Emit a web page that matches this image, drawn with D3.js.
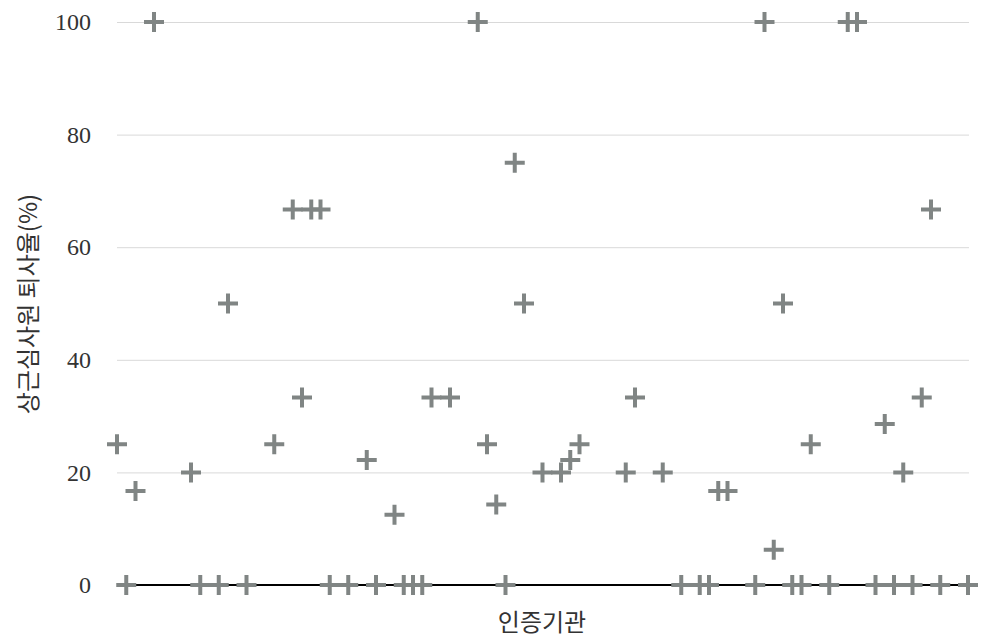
<!DOCTYPE html>
<html>
<head>
<meta charset="utf-8">
<script src="https://cdn.jsdelivr.net/npm/d3@7"></script>
<style>
  html, body { margin: 0; padding: 0; background: #fff; }
  svg { display: block; }
</style>
</head>
<body>
<svg id="chart" width="982" height="640"></svg>
<script>
// Data: one value per 인증기관 (null = no value)
const categories = d3.range(1, 94).map(String);
const values = [
  25, 0, 16.7, null, 100, null, null, null, 20, 0,
  null, 0, 50, null, 0, null, null, 25, null, 66.7,
  33.3, 66.7, 66.7, 0, null, 0, null, 22.2, 0, null,
  12.5, 0, 0, 0, 33.3, null, 33.3, null, null, 100,
  25, 14.3, 0, 75, 50, null, 20, null, 20, 22.2,
  25, null, null, null, null, 20, 33.3, null, null, 20,
  null, 0, null, 0, 0, 16.7, 16.7, null, null, 0,
  100, 6.25, 50, 0, 0, 25, null, 0, null, 100,
  100, null, 0, 28.6, 0, 20, 0, 33.3, 66.7, 0,
  null, null, 0
];
const yTicks = [0, 20, 40, 60, 80, 100];
const xTitle = "인증기관";
const yTitle = "상근심사원 퇴사율(%)";

const svg = d3.select("#chart");
const mLeft = 117, mRight = 968, mTop = 22, mBottom = 585;

const x = d3.scalePoint().domain(categories).range([mLeft, mRight]);
const y = d3.scaleLinear().domain([0, 100]).range([mBottom, mTop]);

// gridlines + y labels
const yAxis = d3.axisLeft(y).tickValues(yTicks).tickSize(-(mRight - mLeft + 1)).tickPadding(26).tickFormat(d3.format("d"));
const gy = svg.append("g").attr("transform", `translate(${mLeft},0)`).call(yAxis);
gy.select(".domain").remove();
gy.selectAll(".tick line").attr("stroke", "#d9d9d9").attr("stroke-width", 1);
gy.selectAll(".tick text")
  .attr("font-family", "'Liberation Serif', 'DejaVu Serif', serif")
  .attr("font-size", 24)
  .attr("fill", "#333");

// zero baseline
svg.append("line")
  .attr("x1", mLeft).attr("x2", mRight + 1)
  .attr("y1", y(0)).attr("y2", y(0))
  .attr("stroke", "#000").attr("stroke-width", 2);

// markers
const pts = categories.map((c, i) => ({ c, v: values[i] })).filter(d => d.v !== null);
svg.append("g").selectAll("path")
  .data(pts)
  .join("path")
  .attr("transform", d => `translate(${x(d.c)},${y(d.v)})`)
  .attr("d", "M-10,0H10M0,-10V10")
  .attr("stroke", "#808584")
  .attr("stroke-width", 4)
  .attr("fill", "none");

// titles
svg.append("text")
  .attr("x", 542).attr("y", 631)
  .attr("text-anchor", "middle")
  .attr("font-family", "'Noto Sans CJK KR', sans-serif")
  .attr("font-size", 24)
  .attr("fill", "#333")
  .text(xTitle);

svg.append("text")
  .attr("transform", `translate(37,304) rotate(-90)`)
  .attr("text-anchor", "middle")
  .attr("font-family", "'Noto Sans CJK KR', sans-serif")
  .attr("font-size", 24)
  .attr("fill", "#333")
  .text(yTitle);
</script>
</body>
</html>
